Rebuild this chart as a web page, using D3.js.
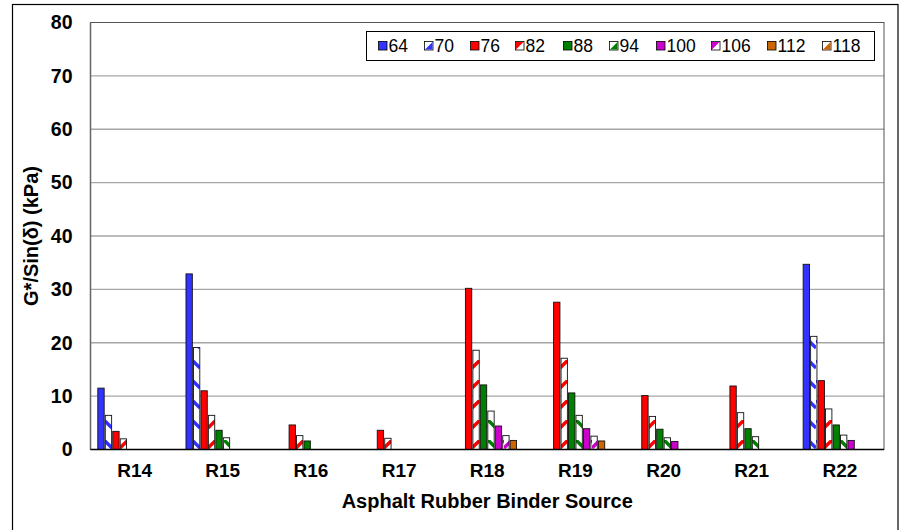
<!DOCTYPE html>
<html>
<head>
<meta charset="utf-8">
<script src="https://cdn.jsdelivr.net/npm/d3@7"></script>
<style>
  html, body { margin: 0; padding: 0; background: #fff; }
  svg { display: block; font-family: "Liberation Sans", Arial, sans-serif; }
</style>
</head>
<body>
<svg id="chart" width="905" height="530"></svg>
<script>
// Binder sources along the x axis
const sources = ["R14", "R15", "R16", "R17", "R18", "R19", "R20", "R21", "R22"];
// Test temperatures (one bar per temperature in each group)
const temps = ["64", "70", "76", "82", "88", "94", "100", "106", "112", "118"];
const tempColors = ["#3333ff", "#3333ff", "#ff0000", "#ff0000", "#008000", "#008000", "#cc00cc", "#cc00cc", "#cc6600", "#cc6600"];
const tempHatched = [false, true, false, true, false, true, false, true, false, true];

// G*/sin(delta) in kPa, one array per source, ordered like temps (null = not tested)
const vR14 = [11.5, 6.4, 3.4, 2.0, null, null, null, null, null, null];
const vR15 = [32.9, 19.1, 11.0, 6.4, 3.6, 2.2, null, null, null, null];
const vR16 = [null, null, 4.6, 2.6, 1.6, null, null, null, null, null];
const vR17 = [null, null, 3.6, 2.1, null, null, null, null, null, null];
const vR18 = [null, null, 30.2, 18.6, 12.1, 7.2, 4.4, 2.6, 1.7, null];
const vR19 = [null, null, 27.6, 17.1, 10.6, 6.4, 3.9, 2.5, 1.6, null];
const vR20 = [null, null, 10.1, 6.2, 3.8, 2.2, 1.5, null, null, null];
const vR21 = [null, null, 11.9, 6.9, 3.9, 2.4, null, null, null, null];
const vR22 = [34.7, 21.2, 12.9, 7.6, 4.6, 2.7, 1.7, null, null, null];
const seriesValues = [vR14, vR15, vR16, vR17, vR18, vR19, vR20, vR21, vR22];

const yTicks = [0, 10, 20, 30, 40, 50, 60, 70, 80];

const svg = d3.select("#chart");
const plot = { left: 90.5, right: 884, top: 22.5, bottom: 449.5 };

// Outer chart frame
svg.append("rect")
  .attr("x", 12.5).attr("y", 4.5).attr("width", 885.5).attr("height", 530)
  .attr("fill", "#fff").attr("stroke", "#000").attr("stroke-width", 1.2);

// Diagonal dash patterns for the alternating temperatures
const defs = svg.append("defs");
temps.forEach((t, i) => {
  if (!tempHatched[i]) return;
  const p = defs.append("pattern")
    .attr("id", "hatch" + t)
    .attr("patternUnits", "userSpaceOnUse")
    .attr("width", 8).attr("height", 20);
  p.append("rect").attr("width", 8).attr("height", 20).attr("fill", "#fff");
  const d = (i === 3 || i === 7) ? "M0,8 L8,0" : "M0,0 L8,8";
  p.append("path").attr("d", d)
    .attr("stroke", tempColors[i]).attr("stroke-width", 3.4);
});

const x0 = d3.scaleBand().domain(sources)
  .range([plot.left, plot.right]).paddingInner(0.166).paddingOuter(0.083);
const x1 = d3.scaleBand().domain(temps)
  .range([0, x0.bandwidth()]).paddingInner(0.15);
const y = d3.scaleLinear().domain([0, 80]).range([plot.bottom, plot.top]);

// Gridlines
svg.append("g")
  .selectAll("line")
  .data(yTicks.filter(v => v > 0 && v < 80))
  .join("line")
  .attr("x1", plot.left).attr("x2", plot.right)
  .attr("y1", d => y(d)).attr("y2", d => y(d))
  .attr("stroke", "#a6a6a6").attr("stroke-width", 1.3);

// Plot box
svg.append("rect")
  .attr("x", plot.left).attr("y", plot.top)
  .attr("width", plot.right - plot.left).attr("height", plot.bottom - plot.top)
  .attr("fill", "none").attr("stroke", "#555").attr("stroke-width", 1);

// Bars
const rows = [];
sources.forEach((s, si) => {
  temps.forEach((t, ti) => {
    const v = seriesValues[si][ti];
    if (v != null) rows.push({ s, t, ti, v });
  });
});
svg.append("g")
  .selectAll("rect")
  .data(rows)
  .join("rect")
  .attr("x", d => x0(d.s) + x1(d.t))
  .attr("y", d => y(d.v))
  .attr("width", x1.bandwidth())
  .attr("height", d => y(0) - y(d.v))
  .attr("fill", d => tempHatched[d.ti] ? `url(#hatch${d.t})` : tempColors[d.ti])
  .attr("stroke", "#111").attr("stroke-width", 0.9);

// Axes lines
svg.append("line")
  .attr("x1", plot.left).attr("x2", plot.left)
  .attr("y1", plot.top).attr("y2", plot.bottom)
  .attr("stroke", "#666").attr("stroke-width", 1.5);
svg.append("line")
  .attr("x1", plot.left).attr("x2", plot.right)
  .attr("y1", plot.bottom).attr("y2", plot.bottom)
  .attr("stroke", "#000").attr("stroke-width", 1.5);

// Y axis tick labels
const yAxis = d3.axisLeft(y).tickValues(yTicks).tickSize(0).tickPadding(18);
const gy = svg.append("g").attr("transform", `translate(${plot.left},0)`).call(yAxis);
gy.select(".domain").remove();
gy.selectAll("text")
  .attr("font-family", "Liberation Sans, Arial, sans-serif")
  .attr("font-size", 19.5).attr("font-weight", "bold").attr("fill", "#000");

// X axis category labels
const xAxis = d3.axisBottom(x0).tickSize(0).tickPadding(14);
const gx = svg.append("g").attr("transform", `translate(0,${plot.bottom})`).call(xAxis);
gx.select(".domain").remove();
gx.selectAll("text")
  .attr("font-family", "Liberation Sans, Arial, sans-serif")
  .attr("font-size", 19).attr("font-weight", "bold").attr("fill", "#000");

// Axis titles
svg.append("text")
  .attr("x", (plot.left + plot.right) / 2).attr("y", 508)
  .attr("text-anchor", "middle")
  .attr("font-size", 20).attr("font-weight", "bold")
  .text("Asphalt Rubber Binder Source");
svg.append("text")
  .attr("transform", `translate(37.5,${(plot.top + plot.bottom) / 2}) rotate(-90)`)
  .attr("text-anchor", "middle")
  .attr("font-size", 20).attr("font-weight", "bold")
  .text("G*/Sin(δ) (kPa)");

// Legend
const legend = svg.append("g");
legend.append("rect")
  .attr("x", 366.5).attr("y", 31.5).attr("width", 508).attr("height", 29)
  .attr("fill", "#fff").attr("stroke", "#000").attr("stroke-width", 1);
const legendX = [378, 424, 470, 515, 563, 609, 656, 711, 767, 822];
temps.forEach((t, i) => {
  const g = legend.append("g").attr("transform", `translate(${legendX[i]},46)`);
  g.append("rect")
    .attr("x", 0.5).attr("y", -4.5).attr("width", 8.5).attr("height", 8.5)
    .attr("fill", tempHatched[i] ? "#fff" : tempColors[i])
    .attr("stroke", "#000").attr("stroke-width", 0.8);
  if (tempHatched[i]) {
    const tri = (i === 3 || i === 7) ? "M1,-4 L8.5,-4 L1,3.5 Z" : "M8.5,-4 L8.5,3.5 L1,3.5 Z";
    g.append("path").attr("d", tri).attr("fill", tempColors[i]);
  }
  g.append("text")
    .attr("x", 10.5).attr("y", 6.2)
    .attr("font-size", 17.5).attr("fill", "#000")
    .text(t);
});
</script>
</body>
</html>
